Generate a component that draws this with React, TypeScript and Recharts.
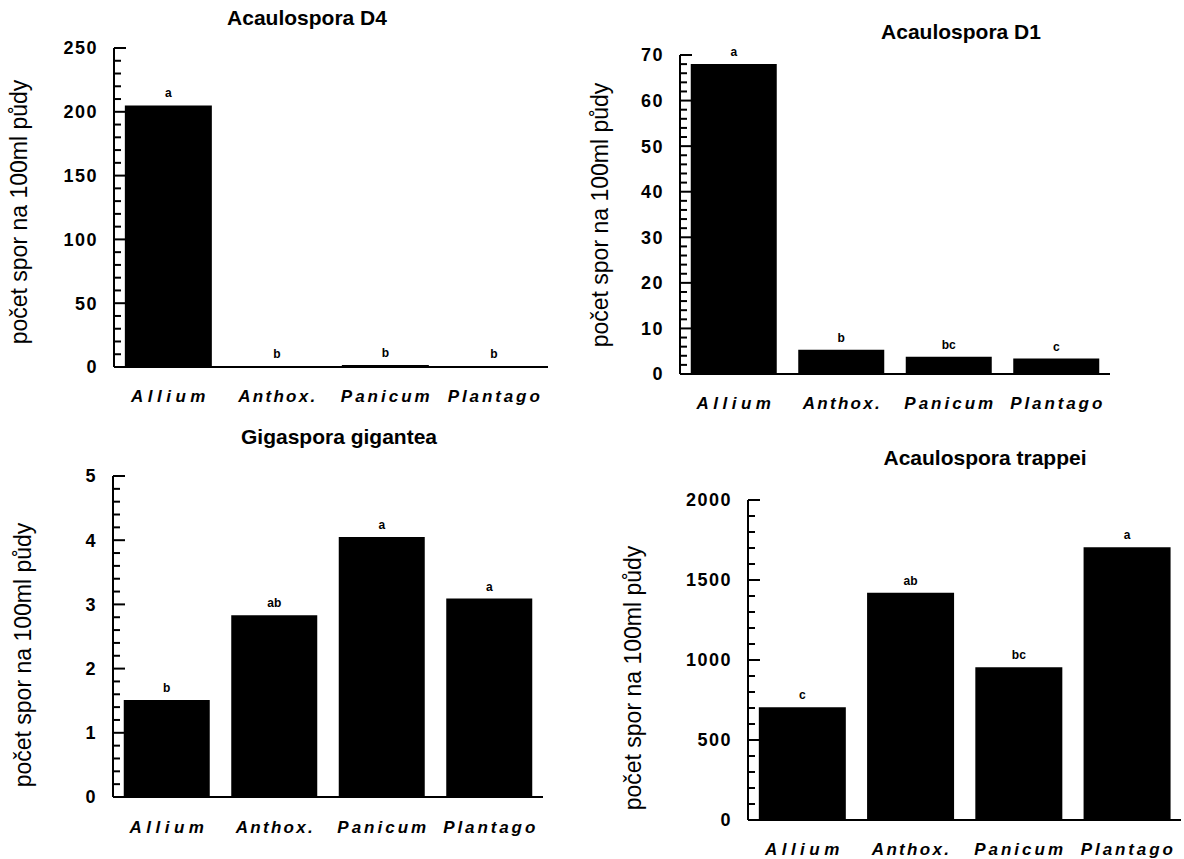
import React from 'react'
import { BarChart, Bar, XAxis, YAxis, LabelList } from 'recharts'

const categories = ['Allium', 'Anthox.', 'Panicum', 'Plantago']
const yLabel = 'počet spor na 100ml půdy'

// Acaulospora D4
const d4Values = [205, 0.6, 1.5, 0.4]
const d4Letters = ['a', 'b', 'b', 'b']
const d4Ticks = [0, 50, 100, 150, 200, 250]

// Acaulospora D1
const d1Values = [68, 5.3, 3.8, 3.4]
const d1Letters = ['a', 'b', 'bc', 'c']
const d1Ticks = [0, 10, 20, 30, 40, 50, 60, 70]

// Gigaspora gigantea
const gigValues = [1.51, 2.83, 4.05, 3.09]
const gigLetters = ['b', 'ab', 'a', 'a']
const gigTicks = [0, 1, 2, 3, 4, 5]

// Acaulospora trappei
const trapValues = [705, 1420, 955, 1705]
const trapLetters = ['c', 'ab', 'bc', 'a']
const trapTicks = [0, 500, 1000, 1500, 2000]

const FONT = '"Liberation Sans", Arial, sans-serif'
// extra letter spacing per category label (the scan has spaced-out italics)
const catSpacing = [4.5, 2.3, 3, 2.9]

function minorTicks(max: number, step: number) {
  const n = Math.round(max / step)
  return Array.from({ length: n + 1 }, (_, i) => +(i * step).toFixed(4))
}

function CatTick(props: any) {
  const { x, y, payload, index } = props
  const ls = catSpacing[index] ?? 3
  return (
    <text
      x={x + ls / 2}
      y={y}
      dy="0.71em"
      textAnchor="middle"
      fontFamily={FONT}
      fontWeight="bold"
      fontStyle="italic"
      fontSize={17}
      letterSpacing={ls}
      fill="#000"
    >
      {payload.value}
    </text>
  )
}

// ticks point into the plot; only the major ones get a number
function YTick(props: any) {
  const { x, y, payload, majors } = props
  const v = payload.value
  const major = (majors as number[]).some((m) => Math.abs(m - v) < 1e-6)
  return (
    <g>
      <line x1={x} x2={x + (major ? 12 : 7)} y1={y} y2={y} stroke="#000" strokeWidth={2} />
      {major && (
        <text
          x={x - 16}
          y={y}
          dy="0.36em"
          textAnchor="end"
          fontFamily={FONT}
          fontWeight="bold"
          fontSize={18}
          letterSpacing={1.5}
          fill="#000"
        >
          {v}
        </text>
      )}
    </g>
  )
}

interface PanelProps {
  title: string
  values: number[]
  letters: string[]
  majors: number[]
  step: number
  left: number
  top: number
  width: number
  height: number
  mTop: number
  mRight: number
  yWidth: number
  xHeight: number
  labelX: number
  labelY: number
  titleX: number
  titleY: number
  xMargin: number
}

function Panel(p: PanelProps) {
  const data = categories.map((name, i) => ({ name, value: p.values[i], sig: p.letters[i] }))
  const max = p.majors[p.majors.length - 1]
  const ticks = minorTicks(max, p.step)
  return (
    <>
      <div
        style={{
          position: 'absolute',
          left: p.titleX - 150,
          top: p.titleY - 12,
          width: 300,
          textAlign: 'center',
          fontFamily: FONT,
          fontWeight: 'bold',
          fontSize: 21,
          lineHeight: '24px',
        }}
      >
        {p.title}
      </div>
      <div style={{ position: 'absolute', left: p.left, top: p.top }}>
        <BarChart
          width={p.width}
          height={p.height}
          data={data}
          margin={{ top: p.mTop, right: p.mRight, bottom: 0, left: 0 }}
          barCategoryGap="10%"
        >
          <XAxis
            dataKey="name"
            height={p.xHeight}
            axisLine={{ stroke: '#000', strokeWidth: 2 }}
            tickLine={false}
            tickSize={0}
            tickMargin={p.xMargin}
            interval={0}
            tick={<CatTick />}
          />
          <YAxis
            width={p.yWidth}
            domain={[0, max]}
            ticks={ticks}
            interval={0}
            axisLine={{ stroke: '#000', strokeWidth: 2 }}
            tickLine={false}
            tickSize={0}
            tickMargin={0}
            tick={<YTick majors={p.majors} />}
            label={{
              content: () => (
                <text
                  x={p.labelX}
                  y={p.labelY}
                  transform={`rotate(-90, ${p.labelX}, ${p.labelY})`}
                  textAnchor="middle"
                  dy="0.36em"
                  fontFamily={FONT}
                  fontSize={23}
                  fill="#000"
                >
                  {yLabel}
                </text>
              ),
            }}
          />
          <Bar dataKey="value" fill="#000" isAnimationActive={false}>
            <LabelList dataKey="sig" position="top" offset={8} fill="#000" fontFamily={FONT} fontWeight="bold" fontSize={12} />
          </Bar>
        </BarChart>
      </div>
    </>
  )
}

export default function App() {
  return (
    <div style={{ position: 'absolute', left: 0, top: 0, width: 1184, height: 859, background: '#fff' }}>
      <Panel
        title="Acaulospora D4"
        values={d4Values}
        letters={d4Letters}
        majors={d4Ticks}
        step={10}
        left={0}
        top={0}
        width={560}
        height={420}
        mTop={48}
        mRight={12}
        yWidth={114}
        xHeight={53}
        labelX={19}
        labelY={212}
        titleX={307}
        titleY={18}
        xMargin={23}
      />
      <Panel
        title="Acaulospora D1"
        values={d1Values}
        letters={d1Letters}
        majors={d1Ticks}
        step={2}
        left={560}
        top={0}
        width={580}
        height={420}
        mTop={55}
        mRight={30}
        yWidth={120}
        xHeight={46}
        labelX={40}
        labelY={215}
        titleX={961}
        titleY={32}
        xMargin={23}
      />
      <Panel
        title="Gigaspora gigantea"
        values={gigValues}
        letters={gigLetters}
        majors={gigTicks}
        step={0.2}
        left={0}
        top={430}
        width={560}
        height={429}
        mTop={46}
        mRight={17}
        yWidth={113}
        xHeight={62}
        labelX={23}
        labelY={225}
        titleX={339}
        titleY={437}
        xMargin={24}
      />
      <Panel
        title="Acaulospora trappei"
        values={trapValues}
        letters={trapLetters}
        majors={trapTicks}
        step={100}
        left={592}
        top={430}
        width={592}
        height={429}
        mTop={70}
        mRight={3}
        yWidth={156}
        xHeight={39}
        labelX={41}
        labelY={248}
        titleX={985}
        titleY={458}
        xMargin={23}
      />
    </div>
  )
}
